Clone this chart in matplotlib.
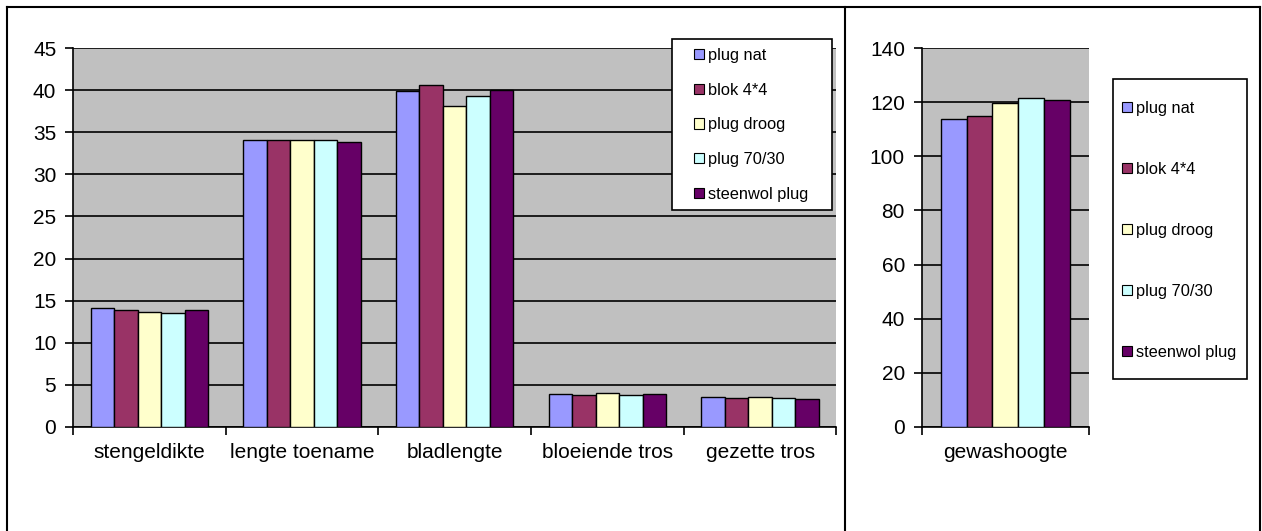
import numpy as np
import matplotlib.pyplot as plt
from matplotlib.patches import Patch, Rectangle
from matplotlib.lines import Line2D

plt.rcParams['font.family'] = ['Liberation Sans', 'DejaVu Sans']

# --- gegevens --- #
behandelingen = ["plug nat", "blok 4*4", "plug droog", "plug 70/30", "steenwol plug"]
kleuren = ["#9999FF", "#993366", "#FFFFCC", "#CCFFFF", "#660066"]

kenmerken = ["stengeldikte", "lengte toename", "bladlengte", "bloeiende tros", "gezette tros"]
plug_nat = [14.1, 34.1, 39.9, 3.9, 3.5]
blok_4x4 = [13.9, 34.1, 40.6, 3.8, 3.4]
plug_droog = [13.6, 34.1, 38.1, 4.0, 3.5]
plug_70_30 = [13.5, 34.1, 39.3, 3.8, 3.4]
steenwol_plug = [13.9, 33.9, 40.1, 3.9, 3.3]

hoogte_label = ["gewashoogte"]
gewashoogte = [113.7, 115.1, 119.7, 121.8, 120.9]

reeksen = [plug_nat, blok_4x4, plug_droog, plug_70_30, steenwol_plug]

W, H = 1262, 531
fig = plt.figure(figsize=(W / 100, H / 100), dpi=100)

ax1 = fig.add_axes([0.0578, 0.1964, 0.605, 0.7126])
ax2 = fig.add_axes([0.7303, 0.1964, 0.1326, 0.7126])

breedte = 0.154


def opmaak(ax, ymax, stap, n):
    ax.set_facecolor("#C0C0C0")
    ax.set_xlim(0, n)
    ax.set_ylim(0, ymax)
    ax.set_yticks(np.arange(0, ymax + 1, stap))
    ax.yaxis.grid(True, color="black", linewidth=1.2)
    ax.set_axisbelow(True)
    for s in ["top", "right"]:
        ax.spines[s].set_visible(False)
    ax.spines["left"].set_linewidth(1.2)
    ax.spines["bottom"].set_linewidth(1.2)
    ax.set_xticks(np.arange(0, n + 1))
    ax.set_xticklabels([])
    ax.set_xticks(np.arange(n) + 0.5, minor=True)
    ax.tick_params(axis="x", which="major", length=6, width=1.2, direction="out")
    ax.tick_params(axis="x", which="minor", length=0, pad=12, labelsize=15)
    ax.tick_params(axis="y", length=6, width=1.2, labelsize=15, pad=6)


# --- linker grafiek --- #
x = np.arange(len(kenmerken)) + 0.5
for i, (reeks, kleur) in enumerate(zip(reeksen, kleuren)):
    ax1.bar(x + (i - 2) * breedte, reeks, breedte, color=kleur,
            edgecolor="black", linewidth=1, zorder=3)
opmaak(ax1, 45, 5, len(kenmerken))
ax1.set_xticklabels(kenmerken, minor=True)

# --- rechter grafiek --- #
for i, kleur in enumerate(kleuren):
    ax2.bar(0.5 + (i - 2) * breedte, gewashoogte[i], breedte, color=kleur,
            edgecolor="black", linewidth=1, zorder=3)
opmaak(ax2, 140, 20, 1)
ax2.set_xticklabels(hoogte_label, minor=True)

# --- legenda's: tekst zonder kader, kader los getekend --- #
handles = [Patch(facecolor=k, edgecolor="black", linewidth=0.8) for k in kleuren]


def legenda(x0, y0, spacing, kader):
    leg = fig.legend(handles, behandelingen, loc="upper left",
                     bbox_to_anchor=(x0 / W, 1 - y0 / H), frameon=False,
                     fontsize=11.8, handlelength=0.6, handleheight=0.6,
                     handletextpad=0.25, labelspacing=spacing, borderpad=0,
                     borderaxespad=0)
    leg.set_zorder(6)
    kx0, ky0, kx1, ky1 = kader
    fig.add_artist(Rectangle((kx0 / W, 1 - ky1 / H), (kx1 - kx0) / W,
                             (ky1 - ky0) / H, facecolor="white",
                             edgecolor="black", linewidth=1.2,
                             transform=fig.transFigure, zorder=5))


legenda(694, 48, 1.2, (672, 39, 832, 210))
legenda(1122, 101, 2.8, (1113, 79, 1247, 379))

# kaders rond de twee grafieken
for lx, ly in [
    ([7, 7], [H, 7]),
    ([7, 1260], [7, 7]),
    ([845, 845], [H, 7]),
    ([1260, 1260], [H, 7]),
]:
    fig.add_artist(Line2D([v / W for v in lx], [1 - v / H for v in ly],
                          color="black", linewidth=1.5,
                          transform=fig.transFigure))

fig.savefig("out.png", dpi=100)
